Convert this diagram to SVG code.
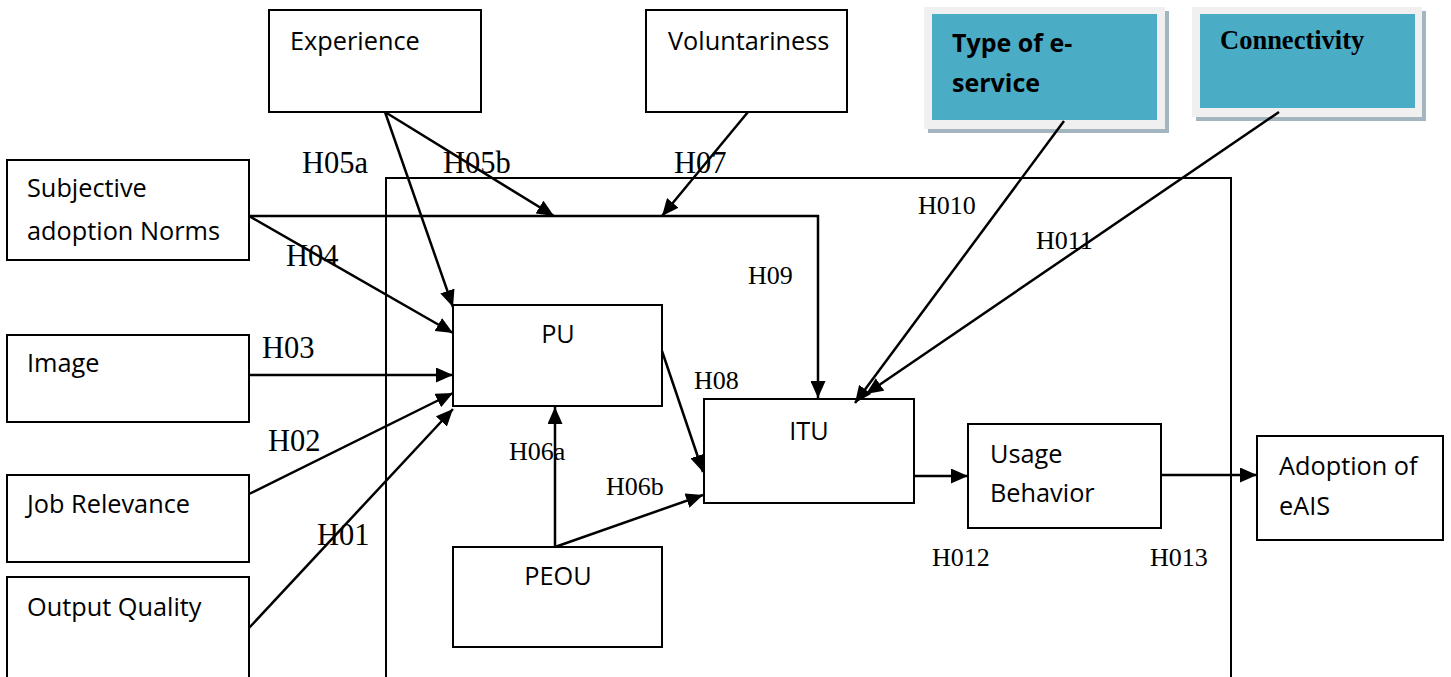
<svg xmlns="http://www.w3.org/2000/svg" width="1451" height="677" viewBox="0 0 1451 677">
  <style>
    .box { fill: #ffffff; stroke: #000000; stroke-width: 2; }
    .frame { fill: none; stroke: #000000; stroke-width: 2; }
    .lbl { font-family: "Open Sans", "Noto Sans", sans-serif; font-size: 25.3px; fill: #000000; }
    .bold { font-family: "Open Sans", "Noto Sans", sans-serif; font-size: 25px; font-weight: bold; fill: #000000; }
    .serifb { font-family: "Liberation Serif", serif; font-size: 26.5px; font-weight: bold; fill: #000000; }
    .hbig { font-family: "Liberation Serif", serif; font-size: 30.5px; fill: #000000; }
    .hsm { font-family: "Liberation Serif", serif; font-size: 26px; fill: #000000; }
    .conn line, .conn polyline { stroke: #000000; stroke-width: 2.5; fill: none; }
    .shadow { fill: #a3b6bf; }
    .rim { fill: #f0f0f0; }
    .tile { fill: #4bacc6; }
  </style>
  <defs>
    <marker id="arrow" viewBox="0 0 17 15" refX="17" refY="7.5" markerWidth="17" markerHeight="15" markerUnits="userSpaceOnUse" orient="auto">
      <path d="M0,0 L17,7.5 L0,15 Z" fill="#000000"/>
    </marker>
  </defs>

  <rect width="1451" height="677" fill="#ffffff"/>

  <!-- system boundary -->
  <rect id="boundary" class="frame" x="386" y="178" width="845" height="520"/>

  <!-- external factors -->
  <g id="experience">
    <rect class="box" x="269" y="10" width="212" height="102"/>
    <text class="lbl" x="290" y="50">Experience</text>
  </g>
  <g id="voluntariness">
    <rect class="box" x="646" y="10" width="201" height="102"/>
    <text class="lbl" x="668" y="50">Voluntariness</text>
  </g>
  <g id="type-of-eservice">
    <rect class="shadow" x="928" y="11" width="241" height="122"/>
    <rect class="rim" x="924" y="7" width="241" height="122"/>
    <rect class="tile" x="932" y="14" width="225" height="106"/>
    <text class="bold" x="952" y="52">Type of e-</text>
    <text class="bold" x="952" y="92">service</text>
  </g>
  <g id="connectivity">
    <rect class="shadow" x="1196" y="11" width="230" height="110"/>
    <rect class="rim" x="1192" y="7" width="230" height="110"/>
    <rect class="tile" x="1200" y="14" width="215" height="94"/>
    <text class="serifb" x="1220" y="49">Connectivity</text>
  </g>
  <g id="subjective-norms">
    <rect class="box" x="7" y="160" width="242" height="100"/>
    <text class="lbl" x="27" y="197">Subjective</text>
    <text class="lbl" x="27" y="240">adoption Norms</text>
  </g>
  <g id="image">
    <rect class="box" x="7" y="335" width="242" height="87"/>
    <text class="lbl" x="27" y="372">Image</text>
  </g>
  <g id="job-relevance">
    <rect class="box" x="7" y="475" width="242" height="87"/>
    <text class="lbl" x="27" y="513">Job Relevance</text>
  </g>
  <g id="output-quality">
    <rect class="box" x="7" y="577" width="242" height="120"/>
    <text class="lbl" x="27" y="616">Output Quality</text>
  </g>

  <!-- core constructs -->
  <g id="pu">
    <rect class="box" x="453" y="305" width="209" height="101"/>
    <text class="lbl" x="558" y="343" text-anchor="middle">PU</text>
  </g>
  <g id="peou">
    <rect class="box" x="453" y="547" width="209" height="100"/>
    <text class="lbl" x="558" y="585" text-anchor="middle">PEOU</text>
  </g>
  <g id="itu">
    <rect class="box" x="704" y="399" width="210" height="104"/>
    <text class="lbl" x="809" y="440" text-anchor="middle">ITU</text>
  </g>
  <g id="usage-behavior">
    <rect class="box" x="968" y="424" width="193" height="104"/>
    <text class="lbl" x="990" y="463">Usage</text>
    <text class="lbl" x="990" y="502">Behavior</text>
  </g>
  <g id="adoption">
    <rect class="box" x="1257" y="436" width="186" height="104"/>
    <text class="lbl" x="1279" y="475">Adoption of</text>
    <text class="lbl" x="1279" y="515">eAIS</text>
  </g>

  <!-- connectors -->
  <g id="connectors" class="conn">
    <line x1="385" y1="112" x2="453" y2="307" marker-end="url(#arrow)"/>
    <line x1="385" y1="112" x2="554" y2="216" marker-end="url(#arrow)"/>
    <line x1="748" y1="112" x2="662" y2="216" marker-end="url(#arrow)"/>
    <polyline points="249,216 818,216 818,398" marker-end="url(#arrow)"/>
    <line x1="249" y1="216" x2="453" y2="333" marker-end="url(#arrow)"/>
    <line x1="249" y1="375" x2="453" y2="375" marker-end="url(#arrow)"/>
    <line x1="249" y1="494" x2="453" y2="393" marker-end="url(#arrow)"/>
    <line x1="249" y1="628" x2="453" y2="409" marker-end="url(#arrow)"/>
    <line x1="555" y1="547" x2="555" y2="407" marker-end="url(#arrow)"/>
    <line x1="555" y1="547" x2="703" y2="495" marker-end="url(#arrow)"/>
    <line x1="662" y1="351" x2="703" y2="472" marker-end="url(#arrow)"/>
    <line x1="1064" y1="121" x2="855" y2="403" marker-end="url(#arrow)"/>
    <line x1="1279" y1="112" x2="866" y2="394" marker-end="url(#arrow)"/>
    <line x1="914" y1="476" x2="968" y2="476" marker-end="url(#arrow)"/>
    <line x1="1161" y1="475" x2="1257" y2="475" marker-end="url(#arrow)"/>
  </g>

  <!-- hypothesis labels -->
  <g id="hypotheses">
    <text class="hbig" x="302" y="173">H05a</text>
    <text class="hbig" x="443" y="173">H05b</text>
    <text class="hbig" x="674" y="173">H07</text>
    <text class="hbig" x="286" y="266">H04</text>
    <text class="hbig" x="262" y="358">H03</text>
    <text class="hbig" x="268" y="451">H02</text>
    <text class="hbig" x="317" y="545">H01</text>
    <text class="hsm" x="918" y="214">H010</text>
    <text class="hsm" x="1036" y="249">H011</text>
    <text class="hsm" x="748" y="284">H09</text>
    <text class="hsm" x="694" y="389">H08</text>
    <text class="hsm" x="509" y="460">H06a</text>
    <text class="hsm" x="606" y="495">H06b</text>
    <text class="hsm" x="932" y="566">H012</text>
    <text class="hsm" x="1150" y="566">H013</text>
  </g>
</svg>
